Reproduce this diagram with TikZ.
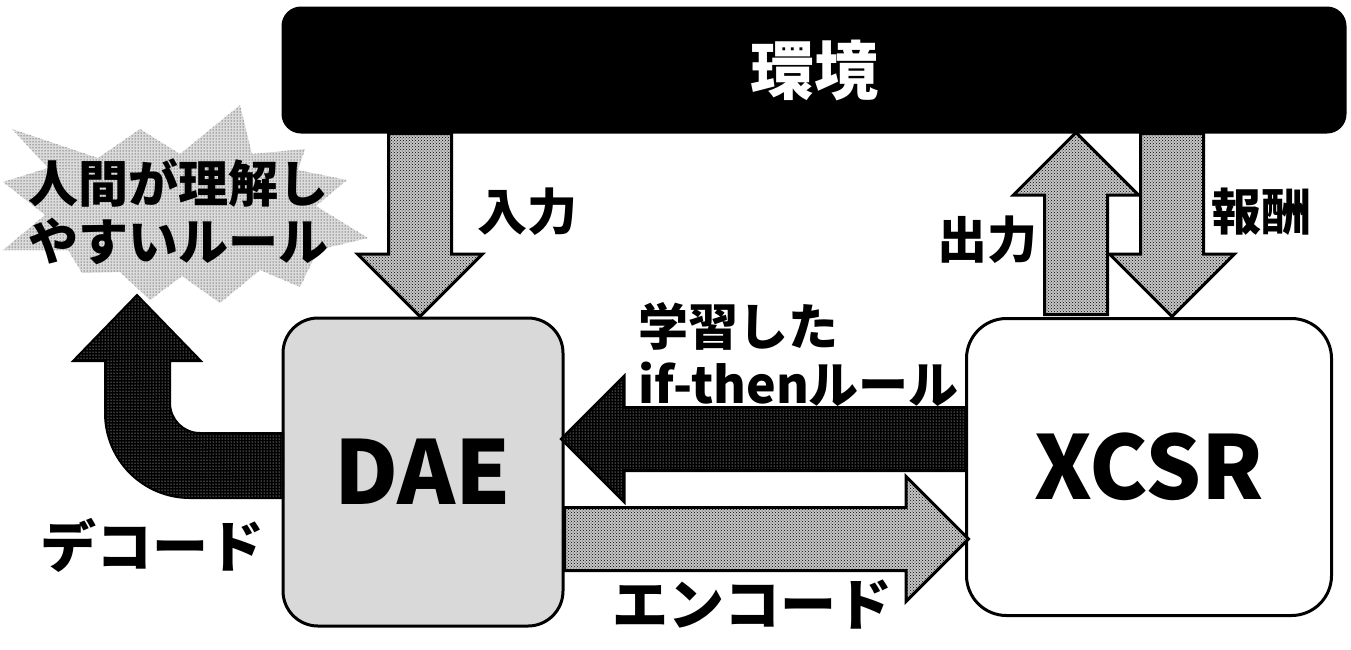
\documentclass[tikz,border=0pt]{standalone}
\usepackage{fontspec}
\setmainfont{Noto Sans CJK JP}
\usetikzlibrary{shapes.arrows,patterns}
\tikzset{
  box/.style={draw=black,line width=3pt,rounded corners=#1},
  lbl/.style={font=\fontsize{50}{58}\selectfont\bfseries,align=center,inner sep=0pt},
  blk/.style={single arrow,draw=black,line width=3pt,inner sep=0pt,anchor=tail,
              text height=60pt,text depth=0pt,
              single arrow head extend=31pt,minimum width=122pt},
  garrow/.style={blk,preaction={fill=gray!45},pattern=crosshatch dots},
  darrow/.style={blk,preaction={fill=black},pattern=dots,pattern color=white},
  burst/.style={preaction={fill=black!14},pattern=dots},
}

\begin{document}
\begin{tikzpicture}[x=1pt,y=-1pt]
  \useasboundingbox (0,0) rectangle (1351,649);

  % burst
  \path[burst] (368,238) -- (318,250) -- (300,287) -- (260,270) -- (220,303)
    -- (182,276) -- (150,300) -- (120,272) -- (82,273) -- (68,250) -- (3,250)
    -- (45,215) -- (3,182) -- (48,168) -- (12,129) -- (98,158) -- (140,129)
    -- (180,154) -- (240,105) -- (252,154) -- (305,149) -- (298,170)
    -- (347,180) -- (316,206) -- cycle;
  \node[lbl] (rule) at (178,212) {人間が理解し\\やすいルール};

  % boxes
  \node[box=18pt,fill=black,text=white,minimum width=1062pt,minimum height=124pt,
        font=\fontsize{64}{70}\selectfont\bfseries] (env) at (814,70) {環境};
  \node[box=35pt,fill=black!15,minimum width=280pt,minimum height=308pt,
        font=\fontsize{88}{96}\selectfont\bfseries] (dae) at (423,472) {DAE};
  \node[box=40pt,fill=white,minimum width=365pt,minimum height=297pt,
        font=\fontsize{88}{96}\selectfont\bfseries] (xcsr) at (1149,467) {XCSR};

  % block arrows
  \node[garrow,rotate=-90,minimum height=183pt] (inarr)  at (420,132) {};
  \node[garrow,rotate=90, minimum height=182pt] (outarr) at (1076,316) {};
  \node[garrow,rotate=-90,minimum height=183pt] (rewarr) at (1172,132) {};
  \node[darrow,rotate=180,minimum height=404pt] (rulearr) at (967,439) {};
  \node[garrow,minimum height=404pt] (encarr) at (563,539) {};

  % decode
  \path[draw=black,line width=2pt,preaction={fill=black},pattern=dots,pattern color=white]
    (283,433) -- (200,433) arc[start angle=90,end angle=180,radius=30]
    -- (170,361) -- (201,361) -- (137,295) -- (73,361) -- (105,361) -- (105,413)
    arc[start angle=180,end angle=90,radius=85] -- (283,498) -- cycle;

  % labels
  \node[lbl] (inlbl)  at (527,212) {入力};
  \node[lbl] (outlbl) at (987,240) {出力};
  \node[lbl] (rewlbl) at (1261,212) {報酬};
  \node[lbl,align=left,anchor=west] (rulelbl) at (638,354) {学習した\\if-thenルール};
  \node[lbl,font=\fontsize{56}{60}\selectfont\bfseries] (declbl) at (152,545) {デコード};
  \node[lbl,font=\fontsize{56}{60}\selectfont\bfseries] (enclbl) at (752,605) {エンコード};
\end{tikzpicture}
\end{document}
